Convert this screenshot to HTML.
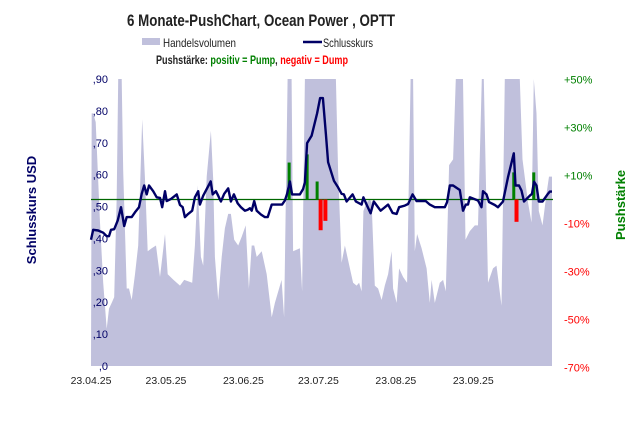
<!DOCTYPE html>
<html><head><meta charset="utf-8"><style>
html,body{margin:0;padding:0;background:#fff;}
svg{display:block;font-family:"Liberation Sans",sans-serif;}
</style></head><body>
<svg id="chart" width="638" height="428" viewBox="0 0 638 428">
<text x="261" y="26" text-anchor="middle" font-size="17" font-weight="bold" fill="#222" textLength="268" lengthAdjust="spacingAndGlyphs">6 Monate-PushChart, Ocean Power , OPTT</text>
<rect x="142" y="38" width="18" height="7" fill="#c0c0dc"/>
<text x="163" y="47" font-size="12" fill="#222" textLength="73" lengthAdjust="spacingAndGlyphs">Handelsvolumen</text>
<line x1="303" y1="42" x2="322" y2="42" stroke="#000066" stroke-width="2.5"/>
<text x="323" y="47" font-size="12" fill="#222" textLength="50" lengthAdjust="spacingAndGlyphs">Schlusskurs</text>
<text x="156" y="64" font-size="12" font-weight="bold" textLength="192" lengthAdjust="spacingAndGlyphs"><tspan fill="#222">Pushstärke: </tspan><tspan fill="#008000">positiv = Pump</tspan><tspan fill="#222">, </tspan><tspan fill="#ff0000">negativ = Dump</tspan></text>
<g id="plot"></g>
<text transform="translate(36,210) rotate(-90)" text-anchor="middle" font-size="13" font-weight="bold" fill="#000066">Schlusskurs USD</text>
<text transform="translate(625,205) rotate(-90)" text-anchor="middle" font-size="13" font-weight="bold" fill="#008000">Pushstärke</text>
</svg>
<script>
const priceDays=[0,0.9,2.9,4.9,6.3,7.2,8,9.3,10.7,12,13.3,14.3,16.3,17.6,19.2,20.3,21.3,22.3,23.2,24.9,26.3,27.6,28.5,29.6,30.3,32,34.3,35.6,36.7,37.6,38.9,40.5,41.6,42.9,43.6,44.9,47.9,48.7,50,50.9,52,53.3,54.9,56,57.2,58.7,60,61.6,62.7,63.6,64.3,65.3,66.3,68,69.6,70.7,72.3,76.5,77.6,78.5,79.6,80.5,83.6,84.9,85.6,86.5,88.3,90.5,91.7,92.8,94,94.9,97.2,98.9,100.3,101.2,102.3,104.7,106,108.3,109,110.3,111.9,113.2,115.9,118.9,120.7,122.3,123.3,125.6,126.9,128.7,130.3,134,135.6,137.6,141.6,142.5,143.6,144.9,147.6,148.9,150,150.9,151.6,154.9,156.3,156.9,158.3,159.3,161.6,162.9,164.9,166.9,169.2,169.9,171.3,172.3,173.3,175.6,176.5,177.3,178.3,179.2,180.7,182.7,183.6,184.5];
const priceValues=[0.396,0.427,0.425,0.418,0.407,0.407,0.427,0.429,0.456,0.498,0.439,0.467,0.467,0.482,0.498,0.540,0.566,0.538,0.566,0.548,0.529,0.527,0.498,0.548,0.517,0.524,0.538,0.505,0.498,0.467,0.477,0.487,0.529,0.548,0.506,0.534,0.579,0.538,0.548,0.534,0.516,0.540,0.557,0.516,0.538,0.510,0.498,0.487,0.490,0.495,0.487,0.517,0.487,0.475,0.467,0.467,0.506,0.506,0.519,0.540,0.579,0.538,0.538,0.555,0.576,0.699,0.722,0.792,0.840,0.840,0.727,0.639,0.581,0.560,0.540,0.538,0.516,0.538,0.516,0.506,0.529,0.506,0.479,0.516,0.487,0.506,0.480,0.477,0.498,0.503,0.508,0.538,0.517,0.517,0.506,0.498,0.498,0.514,0.566,0.566,0.552,0.487,0.506,0.506,0.529,0.519,0.498,0.548,0.538,0.514,0.505,0.498,0.516,0.592,0.667,0.566,0.566,0.550,0.516,0.534,0.540,0.578,0.566,0.516,0.516,0.538,0.547,0.547];
const volDays=[0,0.3,0.9,1.9,3.6,4.9,6.3,7.2,8.3,9.3,10.3,10.9,12.3,12.9,14.3,15.2,16.3,17.6,18.9,20.5,21.6,22.7,24.3,26,27.6,29.6,30.7,33,35.6,37.3,40.5,41.6,42.7,44,44.9,46.3,48,48.9,49.6,50.9,52.3,53.6,54.9,56,57.3,58.9,60.3,61.9,63.2,64.3,65.3,66.3,68.3,70.3,72.3,73.6,76.3,77.3,78.7,80.3,80.9,83.6,84.5,85.6,88.3,91.6,98,98.9,100.3,101.6,103.6,104.9,106.3,107.3,108.3,109,110.3,111.6,112.3,113.6,114.9,116.3,117.6,118.9,120.3,120.9,122.3,123.3,124.9,126.5,127.9,128.9,129.6,130.5,132.3,134.3,135.6,136.3,137.6,139.6,140.9,142,143.3,144.9,146,148.9,149.9,151.6,153.6,154.9,156.4,157.2,158.9,160.9,162.3,164.3,165.6,171.6,172.7,174.9,176.3,177.2,178.3,179.2,180.7,182.3,183.3,184.5];
const volValues=[0,88,88,85,50,29,13,20,22,24,59,100,100,68,27,27,23,32,42,86,65,40,41,42,31,46,32,30,28,30,29,42,63,38,35,66,82,65,38,23,38,48,53,53,44,42,45,49,27,42,42,38,40,32,17,22,30,17,100,100,40,41,26,100,100,100,100,68,36,42,34,29,28,29,26,54,57,58,57,28,27,23,28,32,40,27,22,34,31,29,100,100,40,46,41,34,22,30,22,29,30,26,70,72,100,100,44,47,49,49,100,100,29,34,35,21,100,100,72,57,50,100,88,54,49,60,66,66];
const pushDays=[79.3,86.5,90.5,91.7,93.6,169.2,170.1,177.2];
const pushValues=[15.4,18.8,7.5,-12.8,-8.9,11.3,-9.3,11.3];
const priceTicks=[",0",",10",",20",",30",",40",",50",",60",",70",",80",",90"];
const pushTicks=["+50%","+30%","+10%","-10%","-30%","-50%","-70%"];
const pushTickVals=[50,30,10,-10,-30,-50,-70];
const dateLabels=["23.04.25","23.05.25","23.06.25","23.07.25","23.08.25","23.09.25"];
const dateLabelDays=[0,30,61,91,122,153];

const NS="http://www.w3.org/2000/svg";
const L=91,R=552,T=79,B=366;
const xS=d=>L+d*(R-L)/184.5;
const yP=v=>B-v*(B-T)/0.9;
const yV=p=>B-Math.min(p,100)/100*(B-T);
const yQ=q=>199.5-q*2.4;
const plot=document.getElementById('plot');
function mk(tag,attrs,parent){const e=document.createElementNS(NS,tag);for(const k in attrs)e.setAttribute(k,attrs[k]);(parent||plot).appendChild(e);return e;}

const n=Math.min(volDays.length,volValues.length);
let d="M"+xS(0)+","+B;
for(let i=0;i<n;i++){d+=" L"+xS(volDays[i]).toFixed(1)+","+yV(volValues[i]).toFixed(1);}
d+=" L"+xS(volDays[n-1]).toFixed(1)+","+B+" Z";
const area=mk('path',{d:d,fill:'#c0c0dc'});



const base=mk('line',{x1:L,x2:R+1,y1:yQ(0),y2:yQ(0),stroke:'#006600','stroke-width':1.2});



pushDays.forEach((t,i)=>{
  const v=pushValues[i];const y0=yQ(0),y1=yQ(v);
  const b=mk('rect',{x:xS(t)-1.5,y:Math.min(y0,y1),width:v>0?3:4,height:Math.abs(y1-y0),fill:v>0?'#008000':'#ff0000'});
  
  
});

let p="";
priceDays.forEach((t,i)=>{p+=(i?" L":"M")+xS(t).toFixed(1)+","+yP(priceValues[i]).toFixed(1);});
const line=mk('path',{d:p,fill:'none',stroke:'#000066','stroke-width':2.4,'stroke-linejoin':'round'});



priceTicks.forEach((s,i)=>{
  const t=mk('text',{x:108,y:yP(i*0.1)+4,'text-anchor':'end','font-size':11,fill:'#000066'});
  t.textContent=s;
  
  
});
pushTicks.forEach((s,i)=>{
  const t=mk('text',{x:564,y:yQ(pushTickVals[i])+4,'font-size':11,fill:pushTickVals[i]>0?'#008000':'#ff0000'});
  t.textContent=s;
  
  
});
dateLabels.forEach((s,i)=>{
  const t=mk('text',{x:xS(dateLabelDays[i]),y:384,'text-anchor':'middle','font-size':10.5,fill:'#222'});
  t.textContent=s;
  
  
});
</script>
</body></html>
